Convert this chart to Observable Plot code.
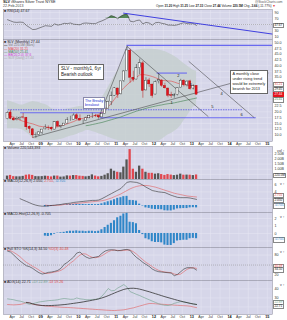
<!DOCTYPE html>
<html><head><meta charset="utf-8">
<script src="https://cdn.jsdelivr.net/npm/d3@7"></script>
<script src="https://cdn.jsdelivr.net/npm/@observablehq/plot@0.6"></script>
<style>
body{margin:0;background:#fff;}
#wrap{position:relative;width:287px;height:320px;overflow:hidden;font-family:"Liberation Sans",Arial,sans-serif;}
.p{position:absolute;left:0;}
.t{position:absolute;font-size:4px;white-space:nowrap;line-height:1;color:#222;}
.lb{position:absolute;font-size:3.2px;line-height:1;white-space:nowrap;background:#fff;border:0.4px solid #888;padding:0 0.4px;}
</style></head><body><div id="wrap"></div>
<script>
// ---------- DATA (monthly, Feb 2008 .. Feb 2013) ----------
const months = ["2008-02","2008-03","2008-04","2008-05","2008-06","2008-07","2008-08","2008-09","2008-10","2008-11","2008-12",
"2009-01","2009-02","2009-03","2009-04","2009-05","2009-06","2009-07","2009-08","2009-09","2009-10","2009-11","2009-12",
"2010-01","2010-02","2010-03","2010-04","2010-05","2010-06","2010-07","2010-08","2010-09","2010-10","2010-11","2010-12",
"2011-01","2011-02","2011-03","2011-04","2011-05","2011-06","2011-07","2011-08","2011-09","2011-10","2011-11","2011-12",
"2012-01","2012-02","2012-03","2012-04","2012-05","2012-06","2012-07","2012-08","2012-09","2012-10","2012-11","2012-12",
"2013-01","2013-02"];
const open = [16.8,19.7,17.0,16.4,16.8,17.6,17.4,13.5,12.4,9.9,10.0, 11.0,12.4,13.1,13.0,12.3,15.6,13.6,14.0,14.9,16.4,16.5,18.5, 17.0,16.1,16.2,17.2,18.4,18.3,18.2,17.6,19.1,21.4,24.2,27.0, 30.1,27.6,33.3,37.6,46.5,34.8,34.0,38.9,41.0,29.3,33.6,31.8, 27.5,33.2,33.5,31.2,30.1,27.2,27.0,27.3,30.5,33.5,31.5,33.2, 30.1,31.2];
const high = [20.0,20.7,17.8,17.8,17.8,19.3,17.6,13.9,12.8,10.9,11.4, 12.4,14.4,13.9,13.4,15.7,16.1,14.1,14.9,17.5,18.1,19.2,19.2, 18.7,16.5,17.7,18.5,19.4,18.9,18.5,19.1,21.6,24.6,28.6,30.5, 30.3,33.2,37.9,48.4,47.2,37.6,40.5,42.9,41.8,34.8,34.5,32.0, 33.4,36.6,34.0,32.4,30.3,28.5,27.9,30.5,34.1,33.9,33.5,33.7, 31.7,31.25];
const low = [16.6,16.6,16.0,16.1,16.2,16.9,12.0,10.6,8.5,8.5,9.5, 10.2,12.2,11.9,11.7,12.2,13.6,12.7,13.9,14.9,15.9,16.5,16.4, 16.2,14.6,16.0,17.0,17.1,17.5,17.2,17.4,19.0,21.1,22.7,26.8, 25.8,27.3,32.7,37.4,32.4,32.9,33.9,36.1,25.9,29.0,30.6,25.9, 27.4,32.1,30.6,29.9,26.1,25.8,25.9,26.9,30.4,30.8,30.8,29.4, 29.5,27.33];
const close = [19.6,17.0,16.3,16.9,17.4,17.5,13.3,12.6,9.8,10.0,11.1, 12.3,13.2,13.0,12.4,15.5,13.6,13.9,14.9,16.5,16.4,18.4,16.9, 16.2,16.1,17.2,18.3,18.4,18.2,17.6,19.1,21.4,24.2,26.8,30.2, 27.4,33.2,37.5,46.6,34.8,33.9,38.9,41.1,29.1,33.5,31.9,26.9, 32.9,33.7,31.3,30.2,27.0,26.9,27.2,30.4,33.5,31.6,33.1,29.8, 31.1,27.44];
const volume = [330,400,280,260,260,300,420,450,400,280,270, 280,320,300,250,330,330,230,250,350,330,380,380, 320,300,260,300,450,330,260,300,420,560,1000,800, 700,650,1200,1900,2900,1000,700,1300,1000,700,600,600, 520,560,480,400,480,430,380,420,520,420,430,420, 380,440];
const ma20 = [19.0,18.2,17.5,17.0,16.4,15.9,15.5,15.1,14.8,14.3,13.8,13.6,13.4,13.3,13.2,13.3,13.5,14.0,14.4,14.8,15.3,15.8,16.4,16.9,17.2,17.5,17.8,18.1,18.5,19.0,19.6,20.9,22.2,23.7,25.5,27.3,29.0,30.4,31.7,32.9,34.0,35.0,36.0,36.2,36.0,35.7,35.3,34.8,34.2,33.7,33.5,33.4,33.3,32.9,32.4,32.0,31.8,31.6,31.4,31.2,31.2];
const ma50 = [null,null,null,null,null,null,null,null,null,null,null,null,null,null,null,null,null,null,null,null,null,null,null,null,null,14.0,14.2,14.5,14.8,15.1,15.4,15.8,16.2,16.6,17.0,17.4,17.8,18.3,18.8,19.3,19.8,20.3,20.7,21.1,21.5,21.9,22.2,22.5,22.8,23.0,23.3,23.5,23.7,23.9,24.2,24.5,24.8,25.1,25.4,25.7,26.0];
const bbUpper = [24.8,24.5,24.0,23.5,23.0,23.0,23.5,24.0,24.5,24.3,24.0,23.5,23.2,22.5,21.5,20.8,20.5,20.5,20.8,21.2,21.5,21.8,22.1,22.3,22.4,22.5,22.6,22.6,22.8,24.0,26.0,28.2,30.5,33.0,35.5,37.6,40.0,42.5,44.1,45.5,46.2,46.6,46.8,47.1,47.1,47.1,47.1,47.0,46.8,46.5,46.2,45.5,44.8,44.1,43.2,42.0,41.0,40.0,39.0,38.0,37.6];
const bbLower = [12.7,12.7,12.7,12.7,12.5,12.0,11.0,10.0,8.5,7.8,7.6,7.6,7.6,7.6,7.6,7.6,7.8,8.0,8.5,9.0,9.4,9.7,10.2,10.8,11.3,11.9,11.9,11.5,11.0,10.5,10.1,9.5,9.0,8.5,8.0,7.6,7.4,7.3,7.3,7.3,7.3,7.3,7.3,7.3,7.3,7.3,7.3,7.3,7.3,8.0,9.0,10.0,10.6,11.5,12.5,14.0,16.0,18.0,20.0,22.0,22.6];
const rsi = [66,62,58,57,58,57,47,40,33,34,38,42,46,45,44,52,48,50,54,53,55,51,50,49,54,55,54,53,53,58,62,67,72,79,76,69,77,82,85,61,59,63,65,52,57,55,48,56,57,54,52,48,48,47,49,53,56,53,52,53,47];
// MACD line starts Jun 2008 (index 4); signal & histogram start Feb 2009 (index 12)
const macd = [2.0,1.6,1.2,0.8,0.4,0.1,-0.1,-0.2,-0.2,-0.1,0.0,0.1,0.2,0.3,0.5,0.6,0.7,0.9,1.0,1.1,1.2,1.3,1.4,1.5,1.5,1.6,2.0,2.5,3.0,3.5,4.0,4.5,5.0,5.9,6.8,7.0,6.9,6.8,6.5,6.0,5.4,4.9,4.4,4.2,4.0,3.9,3.8,3.4,3.0,2.7,2.4,2.3,2.3,2.3,2.2,2.0,1.8];
const signal = [0.1,0.0,0.0,0.0,0.1,0.1,0.3,0.35,0.4,0.5,0.6,0.7,0.8,0.9,1.0,1.1,1.2,1.3,1.4,1.6,1.9,2.2,2.6,3.0,3.4,3.9,4.4,4.9,5.3,5.6,5.8,5.9,5.9,5.8,5.6,5.4,5.1,4.8,4.5,4.2,3.9,3.6,3.4,3.2,3.0,2.8,2.7,2.6,2.5];
const hist = [-0.35,-0.4,-0.3,-0.1,0.05,0.1,0.15,0.25,0.3,0.3,0.35,0.3,0.3,0.25,0.3,0.3,0.25,0.3,0.5,0.8,1.1,1.35,1.7,2.1,2.3,2.6,2.7,1.5,1.45,1.3,0.4,-0.15,-0.7,-0.85,-1.1,-1.2,-1.2,-1.25,-1.55,-1.6,-1.6,-1.35,-1.0,-0.95,-0.9,-0.9,-0.7,-0.65,-0.7];
const stochK = [92,89,80,71,62,55,48,45,40,33,27,23,25,28,29,31,34,40,52,58,66,74,86,89,80,74,70,72,74,76,85,92,95,96,95,93,94,96,97,94,82,73,66,58,52,46,38,33,30,29,28,27,26,18,22,30,38,42,42,41,35];
const stochD = [94,93,88,82,75,66,58,52,46,41,35,29,25,25,27,29,31,34,40,48,56,63,72,80,84,83,77,73,72,74,78,84,90,94,95,94,93,94,95,95,90,83,74,66,58,52,45,39,34,31,29,28,27,23,21,23,30,37,41,42,40];
// ADX starts Aug 2008 (index 6)
const adx = [25,24.5,23.5,22.5,22,21.6,21.5,21.5,21.6,21.8,22,22.3,22.6,23,23.5,24,24.5,25,25.6,26.2,26.8,27.5,28.2,29,30,31.2,32.5,34,35.5,37,38.3,39.5,40.3,40.7,40.8,40.5,39.8,38.9,37.9,36.9,35.8,34.7,33.6,32.5,31.4,30.4,29.4,28.4,27.4,26.5,25.6,24.8,24,23.3,22.71];
const plusDI = [29,28.5,28,27,26.5,25.5,24,23,23.5,24.5,25.5,26,26.5,27,27.2,27.5,28,28.8,29.4,29,28.5,28.6,30,29,28.6,28,28,28.3,28.5,29,32,36,40.5,38,38.3,41,43,44.9,42,37,35.5,34,32.7,31,29.5,28,26.5,25,23.5,22.5,21.8,21.6,22.5,24,25,26,25.5,24.9,24,23.3,22.89];
const minusDI = [22.7,22.5,22.3,22.5,22.8,23.5,25,24.5,23,22.5,22,21.5,21,20.8,20.5,20.2,20,19.7,19.5,19.4,19.2,19,18.7,18.5,18.2,18,17.7,17.5,17.2,17,16.8,16.5,16.3,16.1,16,16.3,16.5,16.8,17.5,18.3,19,20,21,22,23,23.8,23.8,23.5,23.2,23,22.8,22.5,22.3,22,21.8,21.6,21.4,21.2,20.8,20,19.26];
// x-axis ticks (quarterly)
const tickMonths = ["2008-04","2008-07","2008-10","2009-01","2009-04","2009-07","2009-10","2010-01","2010-04","2010-07","2010-10","2011-01","2011-04","2011-07","2011-10","2012-01","2012-04","2012-07","2012-10","2013-01","2013-04","2013-07","2013-10","2014-01","2014-04","2014-07","2014-10","2015-01"];
const priceTicks = [10,12.5,15,17.5,20,22.5,35,37.5,40,42.5,45,47.5,50];
const priceGrid = [10,12.5,15,17.5,20,22.5,25,27.5,30,32.5,35,37.5,40,42.5,45,47.5,50];
// annotations drawn on the price panel (date, price)
const trendLines = [
  {d1:"2008-10-16",p1:8.9,d2:"2015-01-12",p2:36.8},
  {d1:"2010-07-12",p1:17.0,d2:"2011-04-16",p2:48.35},
  {d1:"2011-04-16",p1:48.35,d2:"2013-06-10",p2:17.9},
  {d1:"2012-12-02",p1:41.9,d2:"2014-08-28",p2:17.45}
];
const levelLines = [
  {p:48.8,d1:"2011-04-16",d2:"2015-02-20",dash:false},
  {p:36.8,d1:"2012-02-01",d2:"2012-11-20",dash:false},
  {p:20.9,d1:"2008-02-25",d2:"2014-05-15",dash:true},
  {p:19.6,d1:"2008-06-21",d2:"2010-09-01",dash:false},
  {p:17.45,d1:"2010-08-01",d2:"2014-09-16",dash:false}
];
const waveLabels = [
  {d:"2012-06-20",p:23.9,t:"1"},{d:"2012-08-25",p:35.5,t:"2"},{d:"2012-12-20",p:31.6,t:"3"},
  {d:"2013-10-15",p:27.75,t:"4"},{d:"2013-07-19",p:22.2,t:"5"},{d:"2014-04-27",p:18.7,t:"6"}
];
const rsiLine = [{d1:"2011-03-10",v1:88,d2:"2015-02-20",v2:18}];

// ---------- helpers ----------
const W=287, ML=3, MR=15, BG="#d6d6e9", GRID="#e6e6f2", BORDER="#8a8a9a";
const pm = d3.utcParse("%Y-%m"), pd = d3.utcParse("%Y-%m-%d");
const dates = months.map(pm);
const mid = d => d3.utcDay.offset(d, 15);
const ticks = tickMonths.map(pm);
const xcfg = {type:"utc", domain:[pd("2008-01-08"), pd("2015-02-20")], axis:null};
const ser = (arr, start=0) => arr.map((v,k)=>({date: mid(dates[start+k]), v})).filter(d=>d.v!=null);
const rows = dates.map((d,i)=>({d, o:open[i], h:high[i], l:low[i], c:close[i], vol:volume[i],
  up: i===0 ? close[i]>=open[i] : close[i]>=close[i-1]}));
const wrap = document.getElementById("wrap");
const FONT = {fontFamily:'"Liberation Sans",Arial,sans-serif', fontSize:"4px", background:"transparent", overflow:"visible"};

function base(yTicks){
  return [
    Plot.frame({fill:BG}),
    Plot.ruleX(ticks, {stroke:GRID, strokeWidth:0.5}),
    yTicks ? Plot.ruleY(yTicks, {stroke:GRID, strokeWidth:0.5}) : null
  ];
}
function yAxis(t, fmt){
  return Plot.axisY(t, {anchor:"right", tickSize:0, tickPadding:2, fontSize:3.6, fill:"#333", tickFormat:fmt});
}
function xLabels(){
  const isYear = d => d.getUTCMonth()===0;
  return [
    Plot.text(ticks.filter(d=>!isYear(d)), {x:d=>d, frameAnchor:"bottom", dy:3.2, text:d3.utcFormat("%b"), fontSize:3.6, fill:"#333"}),
    Plot.text(ticks.filter(isYear), {x:d=>d, frameAnchor:"bottom", dy:3.2, text:d=>d3.utcFormat("%y")(d), fontSize:3.8, fontWeight:"bold", fill:"#111"})
  ];
}
function place(plot, top){ plot.classList.add("p"); plot.style.top = top+"px"; wrap.appendChild(plot); return plot; }
function txt(x,y,html,extra=""){ const e=document.createElement("div"); e.className="t"; e.style.left=x+"px"; e.style.top=y+"px"; e.style.cssText+=extra; e.innerHTML=html; wrap.appendChild(e); return e; }
function vbox(plot, top, v, text, color, bg="#fff", border="#888"){
  const y = plot.scale("y").apply(v);
  const e=document.createElement("div"); e.className="lb";
  e.style.left="273px"; e.style.top=(top+y-1.9)+"px"; e.style.color=color; e.style.background=bg; e.style.borderColor=border;
  e.textContent=text; wrap.appendChild(e);
}

// ---------- header ----------
txt(3,1,"<b>SLV</b> iShares Silver Trust NYSE", "font-size:3.8px");
txt(3,5.2,"22-Feb-2013", "color:#444;font-size:3.6px");
txt(156,5.4,"Open <b>31.20</b> High <b>31.25</b> Low <b>27.33</b> Close <b>27.44</b> Volume <b>220.5M</b> Chg <b>-3.66</b> (-11.77%) <span style='color:#d00'>▼</span>", "font-size:3.1px");
txt(255,1,"@StockCharts.com","color:#555;font-size:3.2px");

// ---------- RSI panel ----------
const pR = place(Plot.plot({width:W, height:30, marginLeft:ML, marginRight:MR, marginTop:0, marginBottom:0, style:FONT,
  x:xcfg, y:{domain:[0,100]},
  marks:[
    ...base([10,30,50,70,90]),
    Plot.ruleY([50], {stroke:"#888", strokeDasharray:"1,1", strokeWidth:0.5}),
    Plot.areaY(ser(rsi), {x:"date", y1:70, y2:d=>Math.max(70,d.v), fill:"#3d7a3d", fillOpacity:0.85}),
    Plot.line(ser(rsi), {x:"date", y:"v", stroke:"#444", strokeWidth:0.6}),
    Plot.link(rsiLine, {x1:d=>pd(d.d1), y1:"v1", x2:d=>pd(d.d2), y2:"v2", stroke:"#4040e0", strokeWidth:1}),
    yAxis([10,30,70,90]),
    Plot.frame({stroke:BORDER, strokeWidth:0.5})
  ]}), 9);
txt(4,9.5,"<span style='color:#333'>■</span> RSI(14) 47.67", "font-size:3.6px");
vbox(pR, 9, 47.67, "47.67", "#222");

// ---------- price panel ----------
const hl = levelLines.map(d=>({...d, x1:pd(d.d1), x2:pd(d.d2)}));
const pP = place(Plot.plot({width:W, height:107, marginLeft:ML, marginRight:MR, marginTop:0, marginBottom:5, style:FONT,
  x:xcfg, y:{domain:[7.15,51.35]},
  marks:[
    ...base(priceGrid),
    Plot.areaY(dates.map((d,i)=>({date:mid(d), lo:bbLower[i], hi:bbUpper[i]})), {x:"date", y1:"lo", y2:"hi", fill:"#c4cecd", fillOpacity:0.8, clip:true}),
    Plot.ruleY(hl.filter(d=>!d.dash), {y:"p", x1:"x1", x2:"x2", stroke:"#6a6af0", strokeWidth:1.1}),
    Plot.ruleY(hl.filter(d=>d.dash), {y:"p", x1:"x1", x2:"x2", stroke:"#5050e8", strokeWidth:0.8, strokeDasharray:"1.5,1"}),
    Plot.line(ser(ma50), {x:"date", y:"v", stroke:"#3f7f4f", strokeWidth:0.6}),
    Plot.line(ser(ma20), {x:"date", y:"v", stroke:"#e04848", strokeWidth:0.6}),
    Plot.link(trendLines, {x1:d=>pd(d.d1), y1:"p1", x2:d=>pd(d.d2), y2:"p2", stroke:"#333", strokeWidth:0.5, clip:true}),
    Plot.ruleX(rows, {x:d=>mid(d.d), y1:"l", y2:"h", stroke:d=>d.c>=d.o?"#222":"#b00", strokeWidth:0.45}),
    Plot.rect(rows, {x1:d=>d3.utcDay.offset(d.d,5), x2:d=>d3.utcDay.offset(d.d,25), y1:"o", y2:"c",
      fill:d=>d.c>=d.o?"#fff":"#e3141e", stroke:d=>d.c>=d.o?"#222":"#a00", strokeWidth:0.4}),
    Plot.text(waveLabels, {x:d=>pd(d.d), y:"p", text:"t", fontSize:4, fill:"#222"}),
    yAxis(priceTicks, d3.format(".1f")),
    ...xLabels(),
    Plot.frame({stroke:BORDER, strokeWidth:0.5})
  ]}), 39);
txt(4,41,"<span style='color:#333'>■</span> SLV (Monthly) 27.44", "font-size:3.6px");
txt(4,44.3,"<span style='color:#999'>▬</span> Vol 220.5M (bars)", "color:#777;font-size:3.3px");
txt(4,47.5,"— MA(20) 31.21", "color:#e04848;font-size:3.3px");
txt(4,50.7,"— MA(50) 25.41", "color:#3f7f4f;font-size:3.3px");
txt(4,53.9,"— BB(20,2.0) 37.6", "color:#d040d0;font-size:3.3px");
txt(4,57.1,"— SLV (Daily) 27.44", "color:#aaa;font-size:3.3px");
vbox(pP, 39, 32.0, "31.21", "#e04848");
vbox(pP, 39, 29.7, "29.45", "#222");
vbox(pP, 39, 27.44, "27.44", "#fff", "#e3141e", "#e3141e");
vbox(pP, 39, 25.2, "25.41", "#3f7f4f");
txt(58,64,"SLV - monthly1, 6yr<br>Bearish outlook", "font-size:4.6px;line-height:1.35;background:#fff;border:0.5px solid #666;padding:1px 2px;");
txt(83,97,"The Breaky<br>breakout", "font-size:3.6px;line-height:1.25;background:#fff;border:0.5px solid #88a;padding:0.5px 1px;color:#2030d0");
txt(230,70,"A monthly close<br>under rising trend<br>would be extremely<br>bearish for 2013", "font-size:3.8px;line-height:1.3;background:#fff;border:0.5px solid #666;padding:1px 1.5px;");

// ---------- volume panel ----------
const pV = place(Plot.plot({width:W, height:33, marginLeft:ML, marginRight:MR, marginTop:0, marginBottom:0, style:FONT,
  x:xcfg, y:{domain:[0,3200]},
  marks:[
    ...base([500,1000,1500,2000,2500]),
    Plot.rectY(rows, {x1:d=>d3.utcDay.offset(d.d,4), x2:d=>d3.utcDay.offset(d.d,26), y1:0, y2:"vol", fill:d=>d.up?"#555":"#e0474f"}),
    yAxis([1000,1500,2000,2500], d=>(d/1000).toFixed(2)+"B"),
    Plot.frame({stroke:BORDER, strokeWidth:0.5})
  ]}), 146);
txt(4,146.5,"<span style='color:#333'>■</span> Volume 220,543,393", "font-size:3.6px");
vbox(pV, 146, 380, "220.5M", "#222");

// ---------- MACD panel ----------
const pM = place(Plot.plot({width:W, height:33, marginLeft:ML, marginRight:MR, marginTop:0, marginBottom:0, style:FONT,
  x:xcfg, y:{domain:[-2.06,7.65]},
  marks:[
    ...base([0,2,4,6]),
    Plot.rectY(ser(hist,12), {x1:d=>d3.utcDay.offset(d.date,-10), x2:d=>d3.utcDay.offset(d.date,10), y1:0, y2:"v", fill:"#2f86c8"}),
    Plot.line(ser(signal,12), {x:"date", y:"v", stroke:"#e06060", strokeWidth:0.6}),
    Plot.line(ser(macd,4), {x:"date", y:"v", stroke:"#333", strokeWidth:0.6}),
    yAxis([4,6]),
    Plot.frame({stroke:BORDER, strokeWidth:0.5})
  ]}), 179);
txt(4,179.8,"<span style='color:#333'>■</span> MACD(12,26,9) 2.050, <span style='color:#e04848'>2.755</span>, <span style='color:#2f86c8'>-0.705</span>", "font-size:3.6px");
vbox(pM, 179, 2.95, "2.755", "#e04848");
vbox(pM, 179, 1.6, "2.050", "#222");
vbox(pM, 179, -0.1, "-0.705", "#2f86c8");

// ---------- MACD histogram panel ----------
const pH = place(Plot.plot({width:W, height:35, marginLeft:ML, marginRight:MR, marginTop:0, marginBottom:0, style:FONT,
  x:xcfg, y:{domain:[-1.87,2.8]},
  marks:[
    ...base([-1,0,1,2]),
    Plot.rectY(ser(hist,12), {x1:d=>d3.utcDay.offset(d.date,-10), x2:d=>d3.utcDay.offset(d.date,10), y1:0, y2:"v", fill:"#2f86c8"}),
    yAxis([0,1,2]),
    Plot.frame({stroke:BORDER, strokeWidth:0.5})
  ]}), 212);
txt(4,212.8,"<span style='color:#333'>■</span> MACD-Hist(12,26,9) -0.705", "font-size:3.6px");
vbox(pH, 212, -0.85, "-0.705", "#2f86c8");

// ---------- Stochastic panel ----------
const pS = place(Plot.plot({width:W, height:33, marginLeft:ML, marginRight:MR, marginTop:0, marginBottom:0, style:FONT,
  x:xcfg, y:{domain:[3.6,102.7]},
  marks:[
    ...base([20,80]),
    Plot.ruleY([50], {stroke:"#888", strokeDasharray:"1,1", strokeWidth:0.5}),
    Plot.line(ser(stochD), {x:"date", y:"v", stroke:"#e06060", strokeWidth:0.6}),
    Plot.line(ser(stochK), {x:"date", y:"v", stroke:"#333", strokeWidth:0.6}),
    yAxis([20,80]),
    Plot.frame({stroke:BORDER, strokeWidth:0.5})
  ]}), 247);
txt(4,247.8,"<span style='color:#333'>■</span> Full STO %K(14,3) 34.50 <span style='color:#e04848'>%D(3) 40.48</span>", "font-size:3.6px");
vbox(pS, 247, 47, "40.48", "#e04848");
vbox(pS, 247, 35.5, "34.50", "#222");

// ---------- ADX panel (with bottom date axis) ----------
const pA = place(Plot.plot({width:W, height:40, marginLeft:ML, marginRight:MR, marginTop:0, marginBottom:6, style:FONT,
  x:xcfg, y:{domain:[11.6,49.4]},
  marks:[
    ...base([20,30,40]),
    Plot.line(ser(minusDI), {x:"date", y:"v", stroke:"#e06060", strokeWidth:0.6}),
    Plot.line(ser(plusDI), {x:"date", y:"v", stroke:"#6f9f8a", strokeWidth:0.6}),
    Plot.line(ser(adx,6), {x:"date", y:"v", stroke:"#333", strokeWidth:0.8}),
    yAxis([30,40]),
    ...xLabels(),
    Plot.frame({stroke:BORDER, strokeWidth:0.5})
  ]}), 280);
txt(4,280.8,"<span style='color:#333'>■</span> ADX(14) 22.71 <span style='color:#6f9f8a'>+DI 22.89</span> <span style='color:#e04848'>-DI 19.26</span>", "font-size:3.6px");
vbox(pA, 280, 24.6, "22.89", "#6f9f8a");
vbox(pA, 280, 20.6, "22.71", "#222");
</script></body></html>
